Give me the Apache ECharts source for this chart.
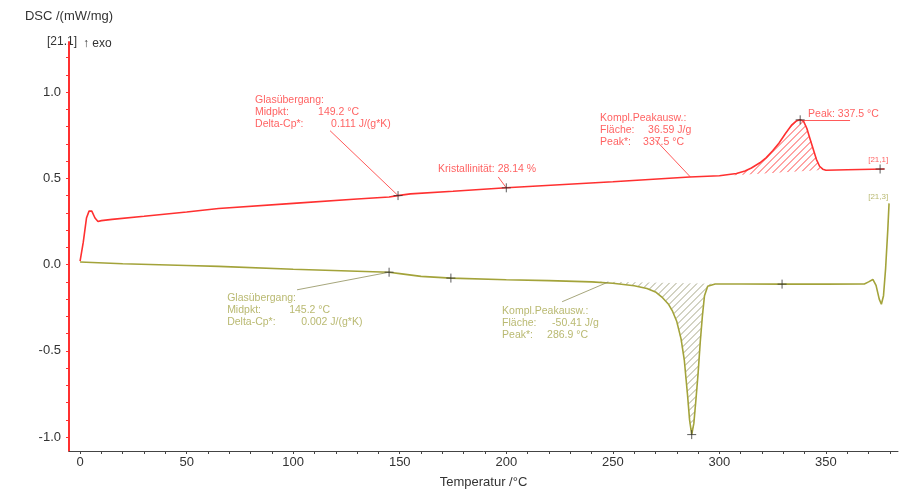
<!DOCTYPE html>
<html><head><meta charset="utf-8">
<script src="https://cdn.jsdelivr.net/npm/echarts@6/dist/echarts.min.js"></script>
<style>html,body{margin:0;padding:0;background:#fff}#c{width:901px;height:494px}</style>
</head><body><div id="c"></div>
<script>
// ---------- data ----------
const xTickLabels = [0, 50, 100, 150, 200, 250, 300, 350];
const xMinorTicks = [0,10,20,30,40,50,60,70,80,90,100,110,120,130,140,150,160,170,180,190,200,210,220,230,240,250,260,270,280,290,300,310,320,330,340,350,360,370,380];
const yTickLabels = [-1.0, -0.5, 0.0, 0.5, 1.0];
const yMinorTicks = [-1.0,-0.9,-0.8,-0.7,-0.6,-0.5,-0.4,-0.3,-0.2,-0.1,0.0,0.1,0.2,0.3,0.4,0.5,0.6,0.7,0.8,0.9,1.0,1.1,1.2];

const redCurve = [
  [0,0.02],[1.5,0.13],[3,0.27],[4.2,0.31],[5.5,0.31],[7,0.27],[8.4,0.25],[10,0.255],[15,0.262],
  [30,0.28],[50,0.305],[65,0.325],[100,0.355],[130,0.38],[145,0.392],[149,0.40],[155,0.41],
  [175,0.425],[200,0.445],[250,0.48],[286,0.508],[300,0.515],[308,0.528],[312,0.542],[315,0.56],
  [319,0.59],[322,0.62],[325,0.66],[328,0.705],[331,0.76],[334,0.81],[336,0.832],[337.9,0.839],
  [339.5,0.83],[341,0.79],[342.5,0.73],[344,0.67],[345.5,0.61],[347,0.57],[348.5,0.553],
  [350,0.547],[360,0.55],[377.5,0.554]
];
const oliveCurve = [
  [0,0.015],[20,0.005],[50,-0.005],[65,-0.01],[100,-0.027],[130,-0.038],[145,-0.044],[150,-0.052],
  [160,-0.068],[174,-0.078],[200,-0.088],[220,-0.093],[240,-0.1],[250,-0.108],[260,-0.122],
  [266,-0.138],[270,-0.158],[273,-0.188],[276,-0.228],[278,-0.27],[280,-0.33],[282,-0.43],
  [283.5,-0.55],[285,-0.75],[286,-0.9],[287,-0.985],[288,-0.92],[289,-0.78],[290,-0.63],
  [291,-0.45],[292,-0.3],[293,-0.18],[294.5,-0.125],[298,-0.112],[310,-0.112],[329.4,-0.113],
  [350,-0.113],[368,-0.112],[370,-0.1],[372,-0.086],[373.5,-0.12],[375,-0.2],[376,-0.23],
  [377,-0.18],[378,-0.02],[379,0.2],[379.6,0.355]
];
const redMarkers = [[149.2,0.40],[200,0.445],[337.9,0.839],[375.4,0.554]];
const oliveMarkers = [[145,-0.044],[174,-0.078],[287,-0.985],[329.4,-0.113]];
const redHatchBase = [[306,0.517],[349,0.549]];
const oliveHatchBase = [[222,-0.093],[297,-0.111]];

const redTexts = {
  glas: ['Glasübergang:', 'Midpkt:', '149.2 °C', 'Delta-Cp*:', '0.111 J/(g*K)'],
  krist: 'Kristallinität: 28.14 %',
  peakInt: ['Kompl.Peakausw.:', 'Fläche:', '36.59 J/g', 'Peak*:', '337.5 °C'],
  peak: 'Peak: 337.5 °C',
  end: '[21,1]'
};
const oliveTexts = {
  glas: ['Glasübergang:', 'Midpkt:', '145.2 °C', 'Delta-Cp*:', '0.002 J/(g*K)'],
  peakInt: ['Kompl.Peakausw.:', 'Fläche:', '-50.41 J/g', 'Peak*:', '286.9 °C'],
  end: '[21,3]'
};

// ---------- styles ----------
const RED = '#ff3030', RED_T = '#ff3a3a';
const OLV = '#a3a33a', OLV_T = '#a8a84e';
const FONT = '"Liberation Sans", Arial, sans-serif';

// hatch: "/" lines inside polygon (curve vs. baseline), clipped by even-odd scan
function hatchSeries(curve, base, color) {
  return {
    type: 'custom', silent: true, clip: true, z: 1,
    itemStyle: { color: color },
    data: [0],
    renderItem: function (params, api) {
      const t0 = base[0][0], t1 = base[1][0];
      const pts = [];
      pts.push(api.coord(base[0]));
      curve.forEach(p => { if (p[0] > t0 && p[0] < t1) pts.push(api.coord(p)); });
      pts.push(api.coord(base[1]));
      let cMin = Infinity, cMax = -Infinity;
      pts.forEach(p => { const c = p[0] + p[1]; cMin = Math.min(cMin, c); cMax = Math.max(cMax, c); });
      const children = [];
      const n = pts.length;
      for (let c = Math.ceil(cMin / 7) * 7 + 0.5; c < cMax; c += 7) {
        const hits = [];
        for (let i = 0; i < n; i++) {
          const A = pts[i], B = pts[(i + 1) % n];
          const fa = A[0] + A[1] - c, fb = B[0] + B[1] - c;
          if ((fa < 0 && fb >= 0) || (fb < 0 && fa >= 0)) {
            const u = fa / (fa - fb);
            hits.push([A[0] + u * (B[0] - A[0]), A[1] + u * (B[1] - A[1])]);
          }
        }
        hits.sort((p, q) => p[0] - q[0]);
        for (let k = 0; k + 1 < hits.length; k += 2) {
          children.push({ type: 'line',
            shape: { x1: hits[k][0], y1: hits[k][1], x2: hits[k + 1][0], y2: hits[k + 1][1] },
            style: { stroke: color, lineWidth: 1 } });
        }
      }
      return { type: 'group', children: children };
    }
  };
}

function block(lines, w1, w2, color) {
  return {
    formatter: '{h|' + lines[0] + '}\n{a|' + lines[1] + '}{v|' + lines[2] + '}\n{b|' + lines[3] + '}{v|' + lines[4] + '}',
    rich: {
      h: { color: color, fontSize: 10.5, lineHeight: 12, fontFamily: FONT },
      a: { color: color, fontSize: 10.5, lineHeight: 12, width: w1, fontFamily: FONT },
      b: { color: color, fontSize: 10.5, lineHeight: 12, width: w2, fontFamily: FONT },
      v: { color: color, fontSize: 10.5, lineHeight: 12, fontFamily: FONT }
    }
  };
}

function annot(coord, label) {
  return {
    value: coord,
    label: Object.assign({ show: true, position: [0, 0], align: 'left', verticalAlign: 'top' }, label)
  };
}
function simple(text, color, size) {
  return { formatter: text, color: color, fontSize: size, fontFamily: FONT, lineHeight: size + 2 };
}

const plusPath = 'path://M0,5L10,5M5,0L5,10';

const chart = echarts.init(document.getElementById('c'));
chart.setOption({
  animation: false,
  backgroundColor: '#fff',
  grid: { left: 69, right: 3, top: 42, bottom: 35 },
  xAxis: {
    type: 'value', min: -5.2, max: 383.8,
    name: 'Temperatur /°C', nameLocation: 'middle', nameGap: 25,
    nameTextStyle: { color: '#333', fontSize: 13, fontFamily: FONT },
    axisLine: { onZero: false, lineStyle: { color: '#444', width: 1 } },
    axisTick: { show: true, customValues: xMinorTicks, length: 3, lineStyle: { color: '#444' } },
    axisLabel: { customValues: xTickLabels, color: '#333', fontSize: 13, fontFamily: FONT, margin: 5 },
    splitLine: { show: false }
  },
  yAxis: {
    type: 'value', min: -1.08, max: 1.29,
    name: 'DSC /(mW/mg)', nameLocation: 'end', nameGap: 19,
    nameTextStyle: { color: '#333', fontSize: 13, fontFamily: FONT, align: 'center' },
    axisLine: { show: true, onZero: false, lineStyle: { color: RED, width: 2 } },
    axisTick: { show: true, customValues: yMinorTicks, length: 3, lineStyle: { color: RED } },
    axisLabel: { customValues: yTickLabels, color: '#333', fontSize: 13, fontFamily: FONT, margin: 8,
      formatter: v => v.toFixed(1) },
    splitLine: { show: false }
  },
  graphic: [
    { type: 'text', left: 47, top: 36, style: { text: '[21.1]', fill: '#333', font: '12px ' + FONT } },
    { type: 'text', left: 83, top: 38, style: { text: '↑ exo', fill: '#333', font: '12px ' + FONT } }
  ],
  series: [
    hatchSeries(redCurve, redHatchBase, '#ff4a4a'),
    hatchSeries(oliveCurve, oliveHatchBase, '#a8a888'),
    {
      type: 'line', name: 'red', data: redCurve, showSymbol: false, symbol: 'none', z: 3,
      lineStyle: { color: RED, width: 1.6 },
      markLine: {
        silent: true, symbol: 'none', label: { show: false },
        lineStyle: { color: RED, width: 0.8, type: 'solid' },
        data: [
          [{ coord: [117.3, 0.776] }, { coord: [149.2, 0.40] }],
          [{ coord: [196.2, 0.508] }, { coord: [200, 0.445] }],
          [{ coord: [269.8, 0.725] }, { coord: [286.3, 0.509] }],
          [{ coord: [337.9, 0.839] }, { coord: [361.3, 0.839] }]
        ]
      }
    },
    {
      type: 'line', name: 'olive', data: oliveCurve, showSymbol: false, symbol: 'none', z: 3,
      lineStyle: { color: OLV, width: 1.6 },
      markLine: {
        silent: true, symbol: 'none', label: { show: false },
        lineStyle: { color: '#8f8f5a', width: 0.8, type: 'solid' },
        data: [
          [{ coord: [101.8, -0.146] }, { coord: [145, -0.044] }],
          [{ coord: [226.2, -0.215] }, { coord: [247.8, -0.101] }]
        ]
      }
    },
    {
      type: 'scatter', data: redMarkers.concat(oliveMarkers), z: 5,
      symbol: plusPath, symbolSize: 9,
      itemStyle: { color: 'none', borderColor: '#333', borderWidth: 1 }
    },
    {
      type: 'scatter', symbolSize: 0, z: 6, silent: true,
      data: [
        annot([82.1, 0.987], block(redTexts.glas, 63, 76, RED_T)),
        annot([168, 0.588], simple(redTexts.krist, RED_T, 10.5)),
        annot([244, 0.884], block(redTexts.peakInt, 48, 43, RED_T)),
        annot([341.6, 0.907], simple(redTexts.peak, RED_T, 10.5)),
        annot([369.8, 0.634], simple(redTexts.end, RED_T, 8)),
        annot([69, -0.158], block(oliveTexts.glas, 62, 74, OLV_T)),
        annot([198, -0.232], block(oliveTexts.peakInt, 50, 45, OLV_T)),
        annot([369.8, 0.423], simple(oliveTexts.end, OLV_T, 8))
      ]
    }
  ]
});
</script>
</body></html>
